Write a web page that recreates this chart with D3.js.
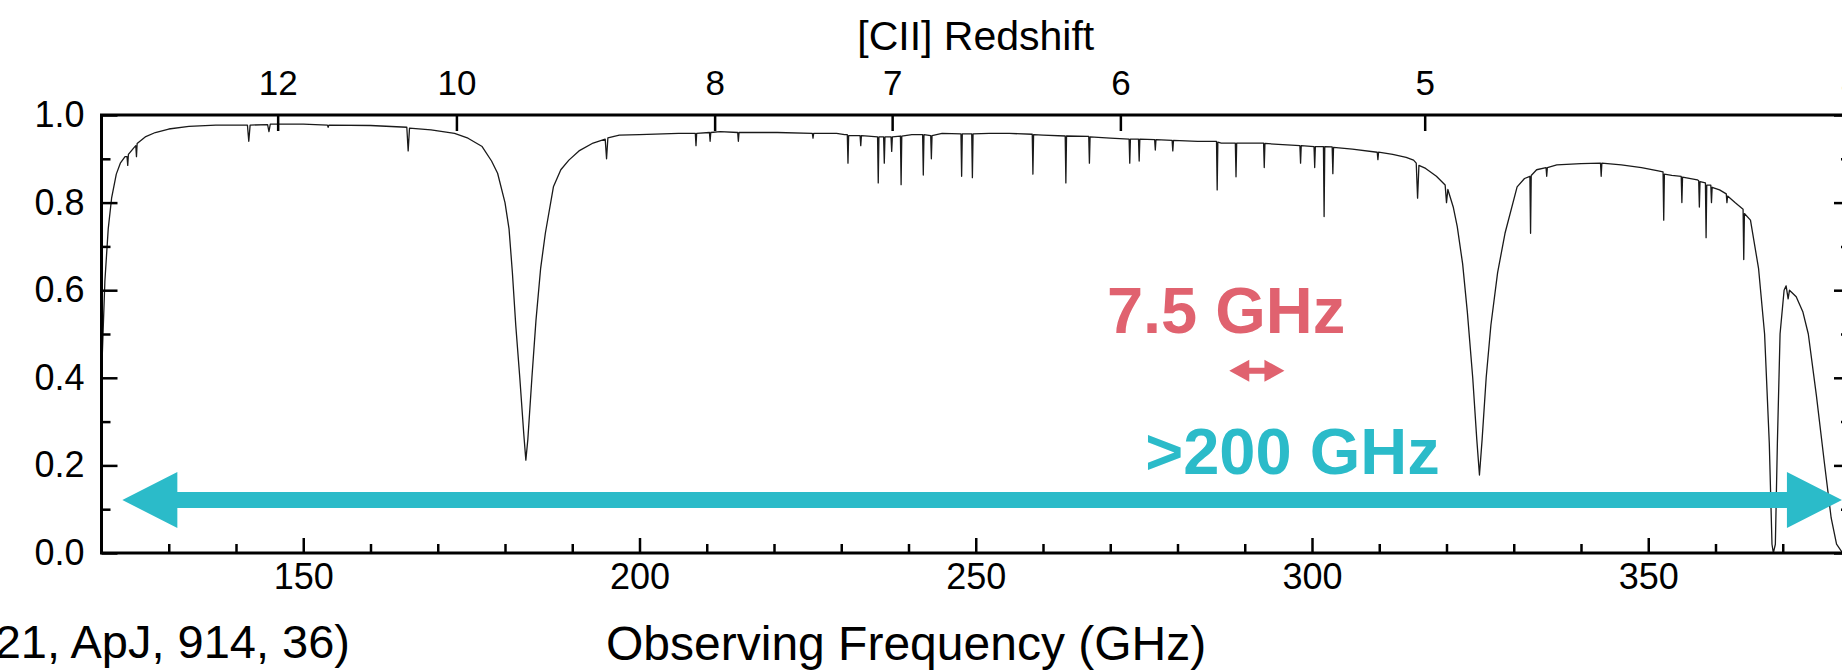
<!DOCTYPE html>
<html>
<head>
<meta charset="utf-8">
<script src="https://cdn.jsdelivr.net/npm/d3@7"></script>
<style>
  html, body { margin: 0; padding: 0; background: #fff; overflow: hidden; }
  svg { display: block; font-family: "Liberation Sans", Arial, sans-serif; }
</style>
</head>
<body>
<div id="chart"></div>
<script>
// [CII] 158um rest frequency, used for the redshift axis on top
const CII_REST = 1900.537;

const redshiftTicks = [12, 10, 8, 7, 6, 5, 4];
const freqMajor = [150, 200, 250, 300, 350];
const freqMinor = [130, 140, 160, 170, 180, 190, 210, 220, 230, 240, 260, 270, 280, 290, 310, 320, 330, 340, 360, 370];
const transMajor = [0, 0.2, 0.4, 0.6, 0.8, 1.0];
const transMinor = [0.1, 0.3, 0.5, 0.7, 0.9];

// atmospheric transmission: [frequency GHz, transmission]
const transmission = [
  [120.0, 0.40], [120.5, 0.62], [121.0, 0.74], [121.5, 0.81], [122.2, 0.865], [122.8, 0.89],
  [123.5, 0.905], [123.8, 0.905], [123.9, 0.885], [124.0, 0.91], [124.8, 0.925],
  [125.1, 0.93], [125.2, 0.905], [125.3, 0.935], [126.5, 0.95], [128, 0.96], [130, 0.968],
  [133, 0.974], [137, 0.977], [141.7, 0.977], [141.9, 0.94], [142.1, 0.977],
  [144.7, 0.978], [144.9, 0.962], [145.1, 0.979], [150, 0.979],
  [153.6, 0.977], [153.7, 0.972], [153.8, 0.977], [160, 0.976],
  [165.4, 0.972], [165.6, 0.918], [165.8, 0.970], [169, 0.966], [172.5, 0.958],
  [174.5, 0.947], [176.6, 0.928], [178.0, 0.895], [178.9, 0.867], [180.0, 0.80],
  [180.6, 0.74], [181.1, 0.64], [181.6, 0.52], [182.2, 0.40], [182.8, 0.27], [183.1, 0.212],
  [183.4, 0.26], [184.0, 0.40], [184.6, 0.53], [185.3, 0.65], [186.0, 0.73], [187.2, 0.836],
  [188.3, 0.875], [189.5, 0.897], [191, 0.918], [193.1, 0.936], [194.9, 0.945],
  [195.1, 0.90], [195.3, 0.948], [197, 0.954], [200, 0.955], [205.8, 0.958],
  [208.3, 0.958], [208.4, 0.93], [208.5, 0.958], [210.4, 0.96], [210.5, 0.94], [210.6, 0.96],
  [212, 0.962], [214.6, 0.96], [214.7, 0.94], [214.8, 0.96], [220.5, 0.96],
  [225.7, 0.958], [225.8, 0.947], [225.9, 0.958], [229.3, 0.958], [230.5, 0.955],
  [230.9, 0.955], [231.0, 0.89], [231.1, 0.953], [232.8, 0.953], [232.9, 0.93], [233.0, 0.953],
  [234, 0.952], [235.4, 0.95], [235.5, 0.845], [235.6, 0.95], [236.3, 0.95], [236.4, 0.89],
  [236.5, 0.95], [237.4, 0.95], [237.5, 0.917], [237.6, 0.95], [238.8, 0.952], [238.9, 0.841],
  [239.0, 0.952], [240.5, 0.955], [242.1, 0.955], [242.2, 0.863], [242.3, 0.955],
  [243.3, 0.953], [243.4, 0.90], [243.5, 0.953], [245, 0.958], [247.8, 0.957], [247.9, 0.86],
  [248.0, 0.957], [249.4, 0.957], [249.5, 0.857], [249.6, 0.957], [252, 0.958], [255, 0.958],
  [258.4, 0.956], [258.5, 0.865], [258.6, 0.955], [260, 0.954], [263.3, 0.952], [263.4, 0.845],
  [263.5, 0.952], [266.8, 0.951], [266.9, 0.89], [267.0, 0.95], [270, 0.947],
  [272.8, 0.945], [272.9, 0.89], [273.0, 0.945], [274.2, 0.945], [274.3, 0.895], [274.4, 0.945],
  [276.6, 0.944], [276.7, 0.92], [276.8, 0.944], [279.2, 0.942], [279.3, 0.918], [279.4, 0.942],
  [283, 0.94], [285.8, 0.94], [285.9, 0.829], [286.0, 0.938], [286.5, 0.936],
  [288.6, 0.936], [288.7, 0.859], [288.8, 0.936], [292.8, 0.936], [292.9, 0.88], [293.0, 0.935],
  [295, 0.933], [298.2, 0.93], [298.3, 0.89], [298.4, 0.93], [300.3, 0.928], [300.4, 0.88],
  [300.5, 0.928], [301.7, 0.928], [301.8, 0.768], [301.9, 0.928], [303.0, 0.927], [303.1, 0.866],
  [303.2, 0.926], [306, 0.922], [309.7, 0.915], [309.8, 0.898], [309.9, 0.915], [312, 0.91],
  [314, 0.903], [315.1, 0.897], [315.5, 0.89], [315.7, 0.81], [315.9, 0.885], [316.9, 0.878],
  [318.5, 0.86], [319.8, 0.84], [320.0, 0.80], [320.2, 0.83], [321.0, 0.79], [321.6, 0.745],
  [322.4, 0.66], [323.1, 0.55], [323.9, 0.40], [324.5, 0.26], [324.9, 0.178], [325.3, 0.26],
  [325.9, 0.40], [326.6, 0.52], [327.6, 0.64], [328.7, 0.73], [330.5, 0.836], [331.6, 0.855],
  [332.4, 0.86], [332.5, 0.73], [332.6, 0.862], [333.4, 0.875], [334.8, 0.88], [334.9, 0.86],
  [335.0, 0.88], [336.4, 0.886], [340, 0.889], [342.9, 0.89], [343.0, 0.86], [343.1, 0.89],
  [346, 0.886], [349, 0.88], [351.3, 0.873], [352.2, 0.87], [352.3, 0.76], [352.4, 0.865],
  [353.5, 0.862], [354.9, 0.86], [355.0, 0.80], [355.1, 0.858], [357.3, 0.852],
  [357.5, 0.85], [357.6, 0.79], [357.7, 0.848], [358.5, 0.845], [358.6, 0.72], [358.7, 0.84],
  [359.3, 0.84], [359.4, 0.80], [359.5, 0.835], [360.6, 0.829], [361.6, 0.82], [361.7, 0.80],
  [361.8, 0.815], [362.9, 0.80], [364.1, 0.785], [364.2, 0.67], [364.3, 0.775], [365.2, 0.76],
  [366.4, 0.65], [367.3, 0.50], [368.0, 0.25], [368.4, 0.02], [368.6, 0.0], [368.9, 0.02],
  [369.2, 0.25], [369.6, 0.50], [370.2, 0.60], [370.5, 0.61], [370.8, 0.58], [371.0, 0.60],
  [372.0, 0.585], [373.0, 0.55], [373.8, 0.50], [375.0, 0.36], [376.2, 0.205], [377.2, 0.08],
  [378.0, 0.02], [378.9, 0.0], [380, 0.0]
];

// annotation arrows (frequency span, transmission level)
const wideBand = [123.1, 378.8];
const wideBandLevel = 0.121;
const narrowBand = [287.7, 295.9];
const narrowBandLevel = 0.416;
const wideLabel = { text: ">200 GHz", freq: 275.2, level: 0.18 };
const narrowLabel = { text: "7.5 GHz", freq: 269.5, level: 0.502 };

const cyan = "#2bbbc9";
const pink = "#e0626f";

const width = 1842;
const height = 671;
const plot = { left: 101.5, right: 1850, top: 115, bottom: 553 };

const svg = d3
  .select("#chart")
  .append("svg")
  .attr("width", width)
  .attr("height", height);

svg.append("rect").attr("width", width).attr("height", height).attr("fill", "#fff");

const x = d3.scaleLinear().domain([120, 380]).range([plot.left, plot.right]);
const y = d3.scaleLinear().domain([0, 1]).range([plot.bottom, plot.top]);

function styleAxis(g, size) {
  g.select(".domain").remove();
  g.selectAll(".tick line").attr("stroke", "#000").attr("stroke-width", 2.5);
  g.selectAll(".tick text").attr("fill", "#000").attr("font-size", size + "px");
}

// transmission curve
const line = d3
  .line()
  .x((d) => x(d[0]))
  .y((d) => y(d[1]));

svg
  .append("path")
  .datum(transmission)
  .attr("fill", "none")
  .attr("stroke", "#1a1a1a")
  .attr("stroke-width", 1.3)
  .attr("stroke-linejoin", "round")
  .attr("d", line);

// left axis
svg
  .append("g")
  .attr("transform", `translate(${plot.left},0)`)
  .call(d3.axisLeft(y).tickValues(transMajor).tickSize(-16).tickPadding(17).tickFormat(d3.format(".1f")))
  .call((g) => styleAxis(g, 36));
svg
  .append("g")
  .attr("transform", `translate(${plot.left},0)`)
  .call(d3.axisLeft(y).tickValues(transMinor).tickSize(-9).tickFormat(""))
  .call((g) => styleAxis(g, 36));

// right axis (ticks only)
svg
  .append("g")
  .attr("transform", `translate(${plot.right},0)`)
  .call(d3.axisRight(y).tickValues(transMajor).tickSize(-16).tickFormat(""))
  .call((g) => styleAxis(g, 36));
svg
  .append("g")
  .attr("transform", `translate(${plot.right},0)`)
  .call(d3.axisRight(y).tickValues(transMinor).tickSize(-9).tickFormat(""))
  .call((g) => styleAxis(g, 36));

// bottom axis
svg
  .append("g")
  .attr("transform", `translate(0,${plot.bottom})`)
  .call(d3.axisBottom(x).tickValues(freqMajor).tickSize(-15).tickPadding(10))
  .call((g) => styleAxis(g, 36));
svg
  .append("g")
  .attr("transform", `translate(0,${plot.bottom})`)
  .call(d3.axisBottom(x).tickValues(freqMinor).tickSize(-9).tickFormat(""))
  .call((g) => styleAxis(g, 36));

// top axis: [CII] redshift
svg
  .append("g")
  .attr("transform", `translate(0,${plot.top})`)
  .call(
    d3
      .axisTop(x)
      .tickValues(redshiftTicks.map((z) => CII_REST / (1 + z)))
      .tickSize(-16)
      .tickPadding(20)
      .tickFormat((f) => Math.round(CII_REST / f - 1))
  )
  .call((g) => styleAxis(g, 35));

// frame
svg
  .append("rect")
  .attr("x", plot.left)
  .attr("y", plot.top)
  .attr("width", plot.right - plot.left)
  .attr("height", plot.bottom - plot.top)
  .attr("fill", "none")
  .attr("stroke", "#000")
  .attr("stroke-width", 3);

// titles
svg
  .append("text")
  .attr("x", (plot.left + plot.right) / 2)
  .attr("y", 50)
  .attr("text-anchor", "middle")
  .attr("font-size", "41px")
  .text("[CII] Redshift");

svg
  .append("text")
  .attr("x", 606)
  .attr("y", 660)
  .attr("font-size", "48px")
  .text("Observing Frequency (GHz)");

svg
  .append("text")
  .attr("x", 350)
  .attr("y", 658)
  .attr("text-anchor", "end")
  .attr("font-size", "47px")
  .text("21, ApJ, 914, 36)");

// double arrow drawn as a polygon
function doubleArrow(x0, x1, yc, shaft, headH, headL) {
  const s = shaft / 2;
  const h = headH / 2;
  return [
    [x0, yc],
    [x0 + headL, yc - h],
    [x0 + headL, yc - s],
    [x1 - headL, yc - s],
    [x1 - headL, yc - h],
    [x1, yc],
    [x1 - headL, yc + h],
    [x1 - headL, yc + s],
    [x0 + headL, yc + s],
    [x0 + headL, yc + h]
  ];
}

svg
  .append("polygon")
  .attr("points", doubleArrow(x(wideBand[0]), x(wideBand[1]), y(wideBandLevel), 16, 56, 55).join(" "))
  .attr("fill", cyan);

svg
  .append("polygon")
  .attr("points", doubleArrow(x(narrowBand[0]), x(narrowBand[1]), y(narrowBandLevel), 6, 22, 20).join(" "))
  .attr("fill", pink);

svg
  .append("text")
  .attr("x", x(wideLabel.freq))
  .attr("y", y(wideLabel.level))
  .attr("font-size", "65px")
  .attr("font-weight", "bold")
  .attr("fill", cyan)
  .text(wideLabel.text);

svg
  .append("text")
  .attr("x", x(narrowLabel.freq))
  .attr("y", y(narrowLabel.level))
  .attr("font-size", "65px")
  .attr("font-weight", "bold")
  .attr("fill", pink)
  .text(narrowLabel.text);
</script>
</body>
</html>
